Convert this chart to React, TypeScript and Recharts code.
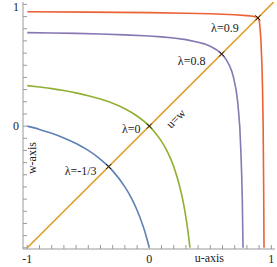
import React from 'react';
import { ComposedChart, Line, XAxis, YAxis, Scatter } from 'recharts';

const TICKS = [-1, -0.9, -0.8, -0.7, -0.6, -0.5, -0.4, -0.3, -0.2, -0.1, 0, 0.1, 0.2, 0.3, 0.4, 0.5, 0.6, 0.7, 0.8, 0.9, 1];
const X_LABELED = [-1, 0, 1];
const Y_LABELED = [0, 1];
const X_TITLE = 'u-axis';
const Y_TITLE = 'w-axis';

const BLUE_U = [-1, -0.9, -0.8, -0.7, -0.6, -0.5, -0.4, -0.333, -0.3, -0.2, -0.15, -0.1, -0.05, -0.025, 0];
const BLUE_W = [0, -0.027, -0.059, -0.097, -0.143, -0.2, -0.273, -0.333, -0.368, -0.5, -0.586, -0.692, -0.826, -0.907, -1];

const GREEN_U = [-1, -0.9, -0.8, -0.7, -0.6, -0.5, -0.4, -0.3, -0.2, -0.1, 0, 0.05, 0.1, 0.15, 0.2, 0.25, 0.27, 0.29, 0.31, 0.32, 0.333];
const GREEN_W = [0.333, 0.321, 0.308, 0.292, 0.273, 0.25, 0.222, 0.188, 0.143, 0.083, 0, -0.056, -0.125, -0.214, -0.333, -0.5, -0.587, -0.69, -0.816, -0.889, -1];

const PURPLE_U = [-1, -0.8, -0.6, -0.4, -0.2, 0, 0.1, 0.2, 0.3, 0.4, 0.45, 0.5, 0.55, 0.57, 0.593, 0.613, 0.628, 0.656, 0.676, 0.69, 0.711, 0.724, 0.733, 0.741, 0.75, 0.757, 0.762, 0.765, 0.768];
const PURPLE_W = [0.768, 0.765, 0.762, 0.757, 0.75, 0.741, 0.733, 0.724, 0.711, 0.69, 0.676, 0.656, 0.628, 0.613, 0.593, 0.57, 0.55, 0.5, 0.45, 0.4, 0.3, 0.2, 0.1, 0, -0.2, -0.4, -0.6, -0.8, -1];

const RED_U = [-1, -0.5, 0, 0.3, 0.5, 0.7, 0.8, 0.85, 0.875, 0.89, 0.898, 0.903, 0.908, 0.915, 0.923, 0.928, 0.933, 0.937, 0.94];
const RED_W = [0.94, 0.937, 0.933, 0.928, 0.923, 0.915, 0.908, 0.903, 0.898, 0.89, 0.875, 0.85, 0.8, 0.7, 0.5, 0.3, 0, -0.5, -1];

const DIAG_U = [-1, 1.02];
const DIAG_W = [-1, 1.02];

const MARK_U = [-0.333, 0, 0.593, 0.89];
const MARK_W = [-0.333, 0, 0.593, 0.89];
const MARK_LABELS = ['λ=-1/3', 'λ=0', 'λ=0.8', 'λ=0.9'];

const DIAG_LABEL_U = [0.14];
const DIAG_LABEL_W = [0.14];
const DIAG_LABEL = 'u=w';

const zip = (u: number[], w: number[]) => u.map((x, i) => ({ u: x, w: w[i] }));

const blue = zip(BLUE_U, BLUE_W);
const green = zip(GREEN_U, GREEN_W);
const purple = zip(PURPLE_U, PURPLE_W);
const red = zip(RED_U, RED_W);
const diag = zip(DIAG_U, DIAG_W);
const marks = MARK_U.map((u, i) => ({ u, w: MARK_W[i], label: MARK_LABELS[i] }));
const diagLabel = zip(DIAG_LABEL_U, DIAG_LABEL_W);

const FONT = '"Liberation Serif", "DejaVu Serif", serif';
const FRAME = '#9a9a9a';
const TEXT = '#222';

// label offsets (pixels) relative to marker, keyed by label order
const LABEL_OFFSETS = [
  { dx: -28, dy: 8 },
  { dx: -18, dy: 7 },
  { dx: -30, dy: 11 },
  { dx: -33, dy: 14 },
];

const BottomTick = (props: any) => {
  const { x, y, payload } = props;
  const v = payload.value;
  const lab = X_LABELED.some((t) => Math.abs(t - v) < 1e-6);
  const isHalf = Math.abs(v - 0.5) < 1e-6;
  return (
    <g>
      <line x1={x} y1={y} x2={x} y2={y - 4} stroke={FRAME} strokeWidth={1} />
      {lab && (
        <text x={x} y={y + 14} textAnchor="middle" fontFamily={FONT} fontSize={12} fill={TEXT}>
          {v === -1 ? '-1' : String(v)}
        </text>
      )}
      {isHalf && (
        <text x={x - 1} y={y + 13} textAnchor="middle" fontFamily={FONT} fontSize={12} fill={TEXT}>
          {X_TITLE}
        </text>
      )}
    </g>
  );
};

const TopTick = (props: any) => {
  const { x, y } = props;
  return <line x1={x} y1={y} x2={x} y2={y + 4} stroke={FRAME} strokeWidth={1} />;
};

const LeftTick = (props: any) => {
  const { x, y, payload } = props;
  const v = payload.value;
  const lab = Y_LABELED.some((t) => Math.abs(t - v) < 1e-6);
  const isTitle = Math.abs(v + 0.3) < 1e-6;
  return (
    <g>
      <line x1={x} y1={y} x2={x + 4} y2={y} stroke={FRAME} strokeWidth={1} />
      {lab && (
        <text x={x - 4} y={y + (v === 1 ? 7 : 4)} textAnchor="end" fontFamily={FONT} fontSize={12} fill={TEXT}>
          {String(v)}
        </text>
      )}
      {isTitle && (
        <text
          x={x + 13.5}
          y={y - 4.5}
          textAnchor="middle"
          fontFamily={FONT}
          fontSize={12}
          fill={TEXT}
          transform={`rotate(-90, ${x + 13.5}, ${y - 4.5})`}
        >
          {Y_TITLE}
        </text>
      )}
    </g>
  );
};

const RightTick = (props: any) => {
  const { x, y } = props;
  return <line x1={x} y1={y} x2={x - 4} y2={y} stroke={FRAME} strokeWidth={1} />;
};

const MarkShape = (props: any) => {
  const { cx, cy, payload } = props;
  const idx = MARK_LABELS.indexOf(payload.label);
  const off = LABEL_OFFSETS[idx] || { dx: 0, dy: 0 };
  const s = 2.5;
  return (
    <g>
      <line x1={cx - s} y1={cy - s} x2={cx + s} y2={cy + s} stroke="#111" strokeWidth={1} />
      <line x1={cx - s} y1={cy + s} x2={cx + s} y2={cy - s} stroke="#111" strokeWidth={1} />
      <text x={cx + off.dx} y={cy + off.dy} textAnchor="middle" fontFamily={FONT} fontSize={12} fill={TEXT}>
        {payload.label}
      </text>
    </g>
  );
};

const DiagLabelShape = (props: any) => {
  const { cx, cy } = props;
  const ox = cx + 9.5;
  const oy = cy + 9.5;
  return (
    <text
      x={ox}
      y={oy + 4}
      textAnchor="middle"
      fontFamily={FONT}
      fontSize={12}
      fill={TEXT}
      transform={`rotate(-45, ${ox}, ${oy})`}
    >
      {DIAG_LABEL}
    </text>
  );
};

export default function App() {
  const xDomain = [-1.035, 1.03];
  const yDomain = [-1.01, 1.02];
  return (
    <div style={{ position: 'absolute', left: 0, top: 0 }}>
      <ComposedChart width={277} height={267} margin={{ top: 2, right: 2, bottom: 0, left: 0 }}>
        <XAxis
          xAxisId="b"
          dataKey="u"
          type="number"
          domain={xDomain}
          allowDataOverflow
          ticks={TICKS}
          interval={0}
          tickLine={false}
          tickSize={0}
          tickMargin={0}
          height={18}
          stroke={FRAME}
          tick={<BottomTick />}
        />
        <XAxis
          xAxisId="t"
          orientation="top"
          type="number"
          domain={xDomain}
          allowDataOverflow
          ticks={TICKS}
          interval={0}
          tickLine={false}
          tickSize={0}
          tickMargin={0}
          height={0}
          stroke={FRAME}
          tick={<TopTick />}
        />
        <YAxis
          yAxisId="l"
          type="number"
          domain={yDomain}
          allowDataOverflow
          ticks={TICKS}
          interval={0}
          tickLine={false}
          tickSize={0}
          tickMargin={0}
          width={23}
          stroke={FRAME}
          tick={<LeftTick />}
        />
        <YAxis
          yAxisId="r"
          orientation="right"
          type="number"
          domain={yDomain}
          allowDataOverflow
          ticks={TICKS}
          interval={0}
          tickLine={false}
          tickSize={0}
          tickMargin={0}
          width={0}
          stroke={FRAME}
          tick={<RightTick />}
        />
        <Line xAxisId="b" yAxisId="l" data={blue} dataKey="w" type="monotone" stroke="#5E81B5" strokeWidth={1.6} dot={false} isAnimationActive={false} />
        <Line xAxisId="b" yAxisId="l" data={green} dataKey="w" type="monotone" stroke="#8FB032" strokeWidth={1.6} dot={false} isAnimationActive={false} />
        <Line xAxisId="b" yAxisId="l" data={purple} dataKey="w" type="linear" stroke="#8778B3" strokeWidth={1.6} dot={false} isAnimationActive={false} />
        <Line xAxisId="b" yAxisId="l" data={red} dataKey="w" type="linear" stroke="#EB6235" strokeWidth={1.6} dot={false} isAnimationActive={false} />
        <Line xAxisId="b" yAxisId="l" data={diag} dataKey="w" type="linear" stroke="#E19C24" strokeWidth={1.6} dot={false} isAnimationActive={false} />
        <Scatter xAxisId="b" yAxisId="l" data={marks} dataKey="w" shape={<MarkShape />} isAnimationActive={false} />
        <Scatter xAxisId="b" yAxisId="l" data={diagLabel} dataKey="w" shape={<DiagLabelShape />} isAnimationActive={false} />
      </ComposedChart>
    </div>
  );
}
